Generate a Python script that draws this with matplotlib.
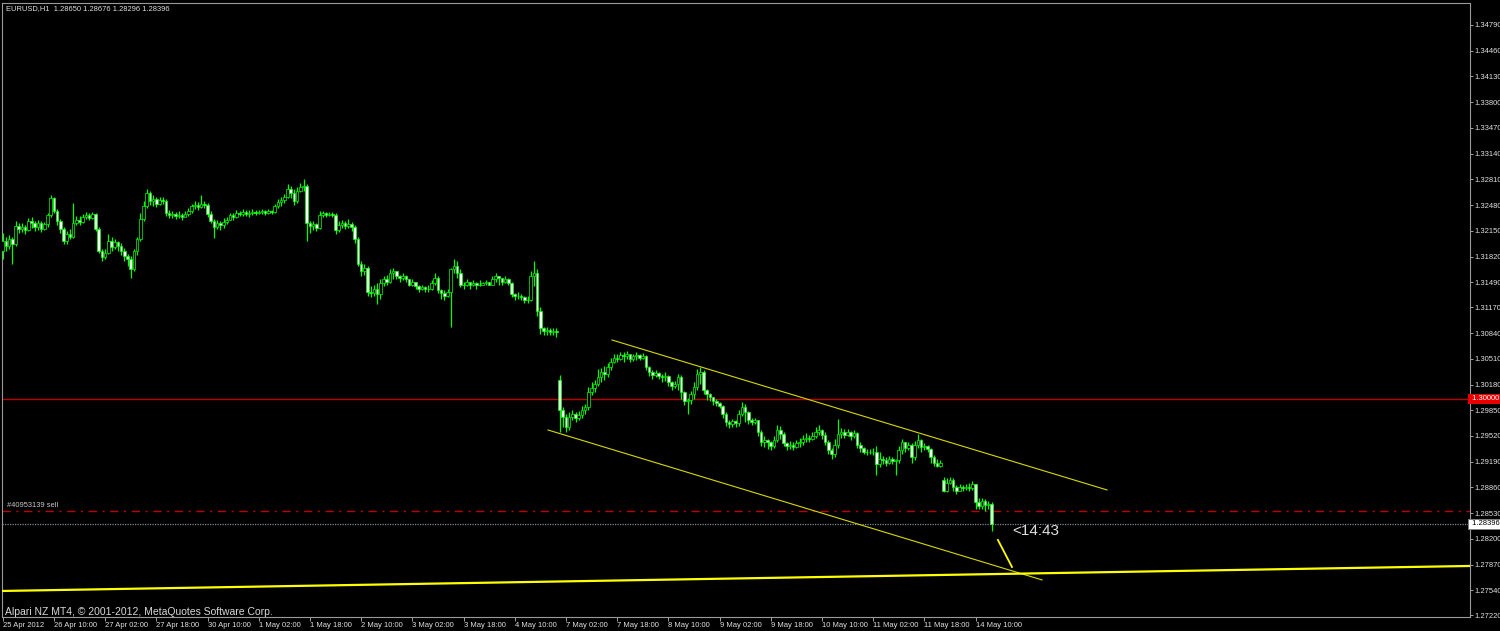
import numpy as np
import matplotlib.pyplot as plt
import matplotlib.transforms as mtransforms

plt.rcParams['font.family'] = ['Liberation Sans', 'DejaVu Sans']

# --- chart header / texts ---
symbol_text = 'EURUSD,H1  1.28650 1.28676 1.28296 1.28396'
copyright_text = 'Alpari NZ MT4, \u00a9 2001-2012, MetaQuotes Software Corp.'
order_text = '#40953139 sell'
timer_text = '<14:43'

# --- H1 candles, open = previous close except gaps ---
close = [
    1.3202, 1.3195, 1.3204, 1.3198, 1.3221, 1.3217, 1.3220, 1.3216, 1.3228, 1.3225,
    1.3220, 1.3225, 1.3217, 1.3224, 1.3235, 1.3257, 1.3241, 1.3228, 1.3217,
    1.3202, 1.3211, 1.3207, 1.3225, 1.3229, 1.3226, 1.3233, 1.3235, 1.3231, 1.3237,
    1.3217, 1.3189, 1.3181, 1.3186, 1.3202, 1.3194, 1.3201, 1.3195, 1.3189, 1.3183,
    1.3179, 1.3166, 1.3189, 1.3204, 1.3230, 1.3247, 1.3264, 1.3253, 1.3256,
    1.3250, 1.3255, 1.3253, 1.3238, 1.3235, 1.3237, 1.3234, 1.3235, 1.3233, 1.3237,
    1.3241, 1.3247, 1.3248, 1.3246, 1.3250, 1.3248, 1.3237, 1.3228, 1.3220, 1.3225,
    1.3222, 1.3226, 1.3229, 1.3235, 1.3233, 1.3238, 1.3237, 1.3239, 1.3237,
    1.3238, 1.3239, 1.3238, 1.3239, 1.3241, 1.3238, 1.3241, 1.3239, 1.3247, 1.3252,
    1.3255, 1.3259, 1.3269, 1.3264, 1.3253, 1.3266, 1.3271, 1.3273, 1.3225, 1.3221,
    1.3224, 1.3219, 1.3235, 1.3238, 1.3235, 1.3237, 1.3235, 1.3216, 1.3222,
    1.3225, 1.3221, 1.3224, 1.3220, 1.3204, 1.3173, 1.3163, 1.3168, 1.3137, 1.3135,
    1.3140, 1.3134, 1.3148, 1.3153, 1.3150, 1.3161, 1.3163, 1.3157, 1.3154, 1.3157,
    1.3153, 1.3146, 1.3149, 1.3144, 1.3141, 1.3143, 1.3140, 1.3141, 1.3148,
    1.3155, 1.3139, 1.3135, 1.3131, 1.3137, 1.3166, 1.3170, 1.3161, 1.3146, 1.3146,
    1.3149, 1.3145, 1.3148, 1.3145, 1.3146, 1.3148, 1.3149, 1.3146, 1.3153, 1.3157,
    1.3154, 1.3149, 1.3153, 1.3148, 1.3134, 1.3131, 1.3132, 1.3130, 1.3127,
    1.3127, 1.3157, 1.3161, 1.3112, 1.3091, 1.3086, 1.3088, 1.3085, 1.3087, 1.3085,
    1.2985, 1.2976, 1.2963, 1.2976, 1.2980, 1.2975, 1.2979, 1.2985, 1.2989,
    1.3008, 1.3014, 1.3019, 1.3028, 1.3034, 1.3032, 1.3041, 1.3047, 1.3052, 1.3051,
    1.3056, 1.3054, 1.3057, 1.3051, 1.3054, 1.3056, 1.3052, 1.3055, 1.3041, 1.3034,
    1.3030, 1.3033, 1.3029, 1.3027, 1.3029, 1.3021, 1.3016, 1.3019, 1.3028,
    1.3008, 1.2997, 1.2998, 1.3006, 1.3015, 1.3032, 1.3034, 1.3011, 1.3006, 1.3002,
    1.2997, 1.2994, 1.2990, 1.2980, 1.2970, 1.2967, 1.2971, 1.2969, 1.2980, 1.2989,
    1.2983, 1.2972, 1.2970, 1.2972, 1.2957, 1.2944, 1.2947, 1.2944, 1.2939,
    1.2947, 1.2960, 1.2954, 1.2943, 1.2939, 1.2941, 1.2938, 1.2943, 1.2944, 1.2948,
    1.2950, 1.2948, 1.2952, 1.2957, 1.2960, 1.2953, 1.2944, 1.2934, 1.2929, 1.2941,
    1.2954, 1.2957, 1.2953, 1.2957, 1.2952, 1.2956, 1.2941, 1.2936, 1.2932,
    1.2931, 1.2932, 1.2931, 1.2916, 1.2923, 1.2921, 1.2918, 1.2922, 1.2920, 1.2921,
    1.2934, 1.2944, 1.2936, 1.2940, 1.2925, 1.2941, 1.2947, 1.2938, 1.2939, 1.2935,
    1.2925, 1.2918, 1.2914, 1.2917, 1.2882, 1.2892, 1.2896, 1.2886, 1.2882,
    1.2886, 1.2885, 1.2887, 1.2885, 1.2890, 1.2867, 1.2862, 1.2869, 1.2864, 1.2865, 1.28396,
]
high = [
    1.3212, 1.3207, 1.3210, 1.3207, 1.3228, 1.3225, 1.3225, 1.3222, 1.3231, 1.3233,
    1.3228, 1.3229, 1.3228, 1.3226, 1.3238, 1.3261, 1.3259, 1.3243, 1.3230,
    1.3220, 1.3215, 1.3217, 1.3251, 1.3234, 1.3234, 1.3237, 1.3239, 1.3238, 1.3239,
    1.3238, 1.3220, 1.3192, 1.3192, 1.3211, 1.3207, 1.3204, 1.3202, 1.3199, 1.3193,
    1.3185, 1.3183, 1.3192, 1.3207, 1.3238, 1.3253, 1.3269, 1.3266, 1.3261,
    1.3259, 1.3259, 1.3259, 1.3256, 1.3242, 1.3241, 1.3239, 1.3241, 1.3238, 1.3241,
    1.3244, 1.3250, 1.3253, 1.3252, 1.3261, 1.3253, 1.3251, 1.3241, 1.3230, 1.3229,
    1.3228, 1.3231, 1.3233, 1.3238, 1.3238, 1.3242, 1.3241, 1.3243, 1.3242,
    1.3242, 1.3243, 1.3242, 1.3242, 1.3243, 1.3242, 1.3243, 1.3242, 1.3250, 1.3256,
    1.3259, 1.3262, 1.3275, 1.3273, 1.3269, 1.3271, 1.3277, 1.3282, 1.3275, 1.3228,
    1.3228, 1.3225, 1.3241, 1.3241, 1.3239, 1.3239, 1.3239, 1.3238, 1.3228,
    1.3229, 1.3228, 1.3230, 1.3226, 1.3222, 1.3207, 1.3176, 1.3173, 1.3170, 1.3144,
    1.3145, 1.3148, 1.3153, 1.3157, 1.3159, 1.3166, 1.3167, 1.3164, 1.3159, 1.3161,
    1.3158, 1.3153, 1.3153, 1.3150, 1.3145, 1.3145, 1.3144, 1.3145, 1.3152,
    1.3161, 1.3157, 1.3141, 1.3139, 1.3141, 1.3168, 1.3179, 1.3176, 1.3166, 1.3150,
    1.3153, 1.3150, 1.3152, 1.3149, 1.3152, 1.3150, 1.3152, 1.3150, 1.3157, 1.3161,
    1.3157, 1.3154, 1.3157, 1.3154, 1.3150, 1.3135, 1.3136, 1.3134, 1.3131,
    1.3132, 1.3163, 1.3176, 1.3166, 1.3117, 1.3092, 1.3092, 1.3090, 1.3091, 1.3090,
    1.3030, 1.2989, 1.2980, 1.2983, 1.2985, 1.2983, 1.2984, 1.2990, 1.2993,
    1.3015, 1.3021, 1.3024, 1.3038, 1.3039, 1.3042, 1.3045, 1.3052, 1.3057, 1.3057,
    1.3060, 1.3060, 1.3061, 1.3057, 1.3057, 1.3060, 1.3057, 1.3059, 1.3056, 1.3042,
    1.3036, 1.3036, 1.3034, 1.3032, 1.3034, 1.3030, 1.3023, 1.3023, 1.3032,
    1.3030, 1.3010, 1.3001, 1.3010, 1.3021, 1.3038, 1.3041, 1.3036, 1.3012, 1.3007,
    1.3002, 1.2999, 1.2996, 1.2992, 1.2983, 1.2972, 1.2974, 1.2972, 1.2985, 1.2996,
    1.2993, 1.2984, 1.2975, 1.2975, 1.2972, 1.2960, 1.2952, 1.2948, 1.2945,
    1.2952, 1.2966, 1.2965, 1.2957, 1.2944, 1.2945, 1.2944, 1.2947, 1.2949, 1.2953,
    1.2956, 1.2953, 1.2957, 1.2963, 1.2966, 1.2961, 1.2957, 1.2947, 1.2936, 1.2948,
    1.2974, 1.2962, 1.2961, 1.2961, 1.2958, 1.2960, 1.2957, 1.2944, 1.2938,
    1.2935, 1.2935, 1.2936, 1.2939, 1.2931, 1.2926, 1.2925, 1.2926, 1.2925, 1.2923,
    1.2939, 1.2948, 1.2944, 1.2944, 1.2943, 1.2945, 1.2954, 1.2948, 1.2943, 1.2940,
    1.2936, 1.2927, 1.2922, 1.2921, 1.2899, 1.2898, 1.2899, 1.2898, 1.2889,
    1.2890, 1.2889, 1.2891, 1.2892, 1.2894, 1.2890, 1.2872, 1.2873, 1.2871, 1.2869, 1.28676,
]
low = [
    1.3179, 1.3189, 1.3192, 1.3172, 1.3195, 1.3212, 1.3213, 1.3211, 1.3215, 1.3219,
    1.3215, 1.3216, 1.3213, 1.3216, 1.3220, 1.3233, 1.3238, 1.3222, 1.3212,
    1.3198, 1.3198, 1.3204, 1.3206, 1.3222, 1.3222, 1.3225, 1.3230, 1.3229, 1.3230,
    1.3215, 1.3186, 1.3177, 1.3179, 1.3185, 1.3189, 1.3192, 1.3189, 1.3184, 1.3177,
    1.3170, 1.3154, 1.3163, 1.3184, 1.3202, 1.3228, 1.3244, 1.3248, 1.3247,
    1.3246, 1.3248, 1.3250, 1.3234, 1.3231, 1.3231, 1.3230, 1.3231, 1.3229, 1.3233,
    1.3234, 1.3238, 1.3243, 1.3242, 1.3244, 1.3244, 1.3233, 1.3225, 1.3206, 1.3217,
    1.3216, 1.3219, 1.3224, 1.3229, 1.3229, 1.3231, 1.3234, 1.3234, 1.3234,
    1.3233, 1.3235, 1.3235, 1.3237, 1.3237, 1.3235, 1.3237, 1.3237, 1.3238, 1.3244,
    1.3247, 1.3251, 1.3257, 1.3257, 1.3248, 1.3251, 1.3265, 1.3266, 1.3202, 1.3212,
    1.3216, 1.3215, 1.3217, 1.3233, 1.3233, 1.3234, 1.3233, 1.3211, 1.3213,
    1.3219, 1.3217, 1.3219, 1.3215, 1.3199, 1.3170, 1.3157, 1.3159, 1.3131, 1.3130,
    1.3131, 1.3121, 1.3128, 1.3144, 1.3146, 1.3148, 1.3153, 1.3153, 1.3150, 1.3152,
    1.3149, 1.3144, 1.3144, 1.3141, 1.3137, 1.3139, 1.3137, 1.3137, 1.3139,
    1.3145, 1.3135, 1.3128, 1.3127, 1.3130, 1.3092, 1.3161, 1.3155, 1.3143, 1.3141,
    1.3144, 1.3141, 1.3144, 1.3141, 1.3144, 1.3145, 1.3146, 1.3145, 1.3145, 1.3150,
    1.3146, 1.3146, 1.3148, 1.3145, 1.3130, 1.3127, 1.3128, 1.3127, 1.3122,
    1.3122, 1.3125, 1.3144, 1.3106, 1.3083, 1.3081, 1.3082, 1.3081, 1.3082, 1.3079,
    1.2957, 1.2963, 1.2957, 1.2960, 1.2972, 1.2970, 1.2972, 1.2975, 1.2980,
    1.2985, 1.3005, 1.3008, 1.3016, 1.3021, 1.3024, 1.3028, 1.3037, 1.3045, 1.3047,
    1.3050, 1.3047, 1.3051, 1.3047, 1.3048, 1.3050, 1.3050, 1.3051, 1.3037, 1.3029,
    1.3025, 1.3027, 1.3025, 1.3021, 1.3023, 1.3016, 1.3011, 1.3014, 1.3011,
    1.2999, 1.2992, 1.2980, 1.2993, 1.2999, 1.3011, 1.3019, 1.3006, 1.2998, 1.2997,
    1.2992, 1.2990, 1.2988, 1.2975, 1.2965, 1.2962, 1.2963, 1.2963, 1.2965, 1.2978,
    1.2970, 1.2967, 1.2966, 1.2967, 1.2952, 1.2939, 1.2938, 1.2935, 1.2934,
    1.2936, 1.2944, 1.2948, 1.2939, 1.2934, 1.2935, 1.2934, 1.2936, 1.2938, 1.2941,
    1.2944, 1.2944, 1.2947, 1.2949, 1.2953, 1.2948, 1.2940, 1.2929, 1.2923, 1.2925,
    1.2936, 1.2950, 1.2949, 1.2952, 1.2947, 1.2949, 1.2936, 1.2932, 1.2929,
    1.2927, 1.2929, 1.2927, 1.2902, 1.2912, 1.2916, 1.2914, 1.2916, 1.2916, 1.2902,
    1.2918, 1.2929, 1.2932, 1.2934, 1.2918, 1.2921, 1.2936, 1.2932, 1.2934, 1.2931,
    1.2918, 1.2914, 1.2912, 1.2912, 1.2880, 1.2880, 1.2890, 1.2882, 1.2878,
    1.2881, 1.2882, 1.2883, 1.2881, 1.2883, 1.2858, 1.2858, 1.2859, 1.2856, 1.2859, 1.28296,
]
# bars where the open differs from the previous close (first bar, weekend gaps)
gap_open = {0: 1.3189, 174: 1.3024, 294: 1.2896}
last_open = 1.28650

time_labels = ['25 Apr 2012', '26 Apr 10:00', '27 Apr 02:00', '27 Apr 18:00',
               '30 Apr 10:00', '1 May 02:00', '1 May 18:00', '2 May 10:00',
               '3 May 02:00', '3 May 18:00', '4 May 10:00', '7 May 02:00',
               '7 May 18:00', '8 May 10:00', '9 May 02:00', '9 May 18:00',
               '10 May 10:00', '11 May 02:00', '11 May 18:00', '14 May 10:00']
bars_per_label = 16

price_ticks = [1.34790, 1.34460, 1.34130, 1.33800, 1.33470, 1.33140, 1.32810,
               1.32480, 1.32150, 1.31820, 1.31490, 1.31170, 1.30840, 1.30510,
               1.30180, 1.29850, 1.29520, 1.29190, 1.28860, 1.28530, 1.28200,
               1.27870, 1.27540, 1.27220]

level_price = 1.30000
order_price = 1.28560
bid_price = 1.28396

# trend line objects: (bar index, price) anchors
channel_upper = [(190.4, 1.30751), (345.1, 1.28828)]
channel_lower = [(170.4, 1.29597), (324.8, 1.27674)]
pointer_line = [(311.0, 1.28187), (315.4, 1.27840)]
support_ray = [(0.0, 1.27533), (458.0, 1.27853)]

n = len(close)
assert len(high) == n and len(low) == n
close = np.array(close)
opens = np.concatenate([[close[0]], close[:-1]])
for k, v in gap_open.items():
    opens[k] = v
opens[-1] = last_open
x = np.arange(n)

fig = plt.figure(figsize=(15, 6.31), dpi=100, facecolor='black')
ax = fig.add_axes([2 / 1500, 14 / 631, 1468 / 1500, 614 / 631], facecolor='black')
ax.set_xlim(-0.22, 458.53)
ax.set_ylim(1.27199, 1.35072)

lime = '#00ff00'
ax.vlines(x, low, high, color=lime, lw=0.9, zorder=3)
bottom = np.minimum(opens, close)
height = np.abs(close - opens)
face = np.where(close < opens, '#f0fff0', 'black')
ax.bar(x, height, bottom=bottom, width=0.78, color=face, edgecolor=lime,
       linewidth=0.5, zorder=4)

# horizontal lines
ax.axhline(level_price, color='#c00000', lw=1.0, zorder=2)
ax.axhline(order_price, color='#c00000', lw=1.0, ls=(0, (6, 4, 1.5, 4)), zorder=2)
ax.axhline(bid_price, color='#7a8a9a', lw=0.9, ls=(0, (1, 1)), zorder=2)

# trend lines
for seg in (channel_upper, channel_lower):
    ax.plot([p[0] for p in seg], [p[1] for p in seg], color='#d8d800', lw=0.8, zorder=5)
ax.plot([p[0] for p in pointer_line], [p[1] for p in pointer_line],
        color='#ffff00', lw=1.3, zorder=5)
ax.axline(support_ray[0], support_ray[1], color='#ffff00', lw=1.6, zorder=5)

# axes styling
for s in ax.spines.values():
    s.set_color('#9a9a9a')
    s.set_linewidth(0.8)

txt_col = '#e0e0e0'
ax.yaxis.tick_right()
ax.set_yticks(price_ticks)
ax.set_yticklabels([f'{v:.5f}' for v in price_ticks])
ax.tick_params(axis='y', direction='out', length=2, width=0.7, color='#a0a0a0',
               labelcolor=txt_col, labelsize=5.5, pad=1.5)

ax.set_xticks(np.arange(len(time_labels)) * bars_per_label)
ax.set_xticklabels(time_labels, ha='left')
ax.tick_params(axis='x', direction='out', length=3, width=0.7, color='#a0a0a0',
               labelcolor=txt_col, labelsize=5.5, pad=0.5)

# texts
ax.annotate(symbol_text, xy=(0, 1), xycoords='axes fraction', xytext=(3, -1.2),
            textcoords='offset points', ha='left', va='top', fontsize=5.4, color=txt_col)
ax.annotate(order_text, xy=(0, order_price), xycoords=('axes fraction', 'data'),
            xytext=(3.5, 1.2), textcoords='offset points', ha='left', va='bottom',
            fontsize=5.4, color='#c8c8c8')
ax.text(n - 1 + 6.4, bid_price, timer_text, ha='left', va='top', fontsize=11,
        color='#e0e0e0', zorder=6)
fig.text(5 / 1500, 1 - 612 / 631, copyright_text, ha='left', va='center',
         fontsize=7.5, color='#d8d8d8')

# price labels on the scale
trans = mtransforms.blended_transform_factory(ax.transAxes, ax.transData)
ax.text(1.0, level_price, ' 1.30000 ', transform=trans, ha='left', va='center',
        fontsize=5.5, color='white', clip_on=False, zorder=7,
        bbox=dict(boxstyle='square,pad=0.2', fc='#e80000', ec='none'))
ax.text(1.0, bid_price, ' 1.28396 ', transform=trans, ha='left', va='center',
        fontsize=5.5, color='black', clip_on=False, zorder=7,
        bbox=dict(boxstyle='square,pad=0.2', fc='white', ec='#808080', lw=0.6))

fig.savefig('out.png', dpi=100, facecolor='black')
